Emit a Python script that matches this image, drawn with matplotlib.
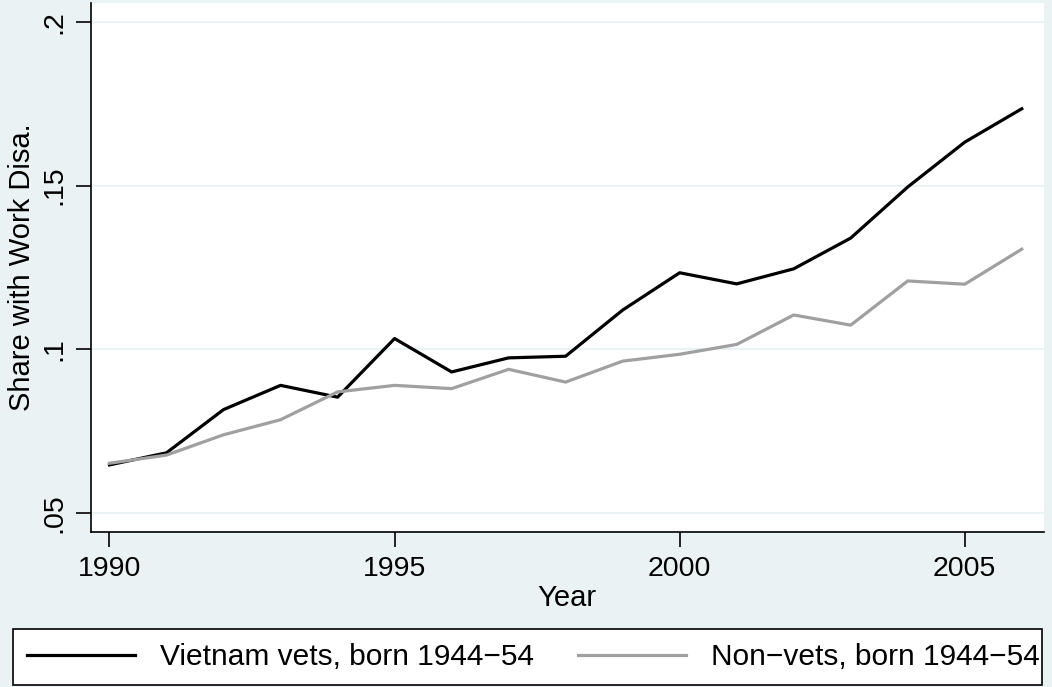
import matplotlib
matplotlib.use("Agg")
import matplotlib.pyplot as plt
from matplotlib.patches import Rectangle

# data
years = list(range(1990, 2007))
vets = [0.0647, 0.0684, 0.0816, 0.0890, 0.0854, 0.1033, 0.0931, 0.0974, 0.0979,
        0.1120, 0.1234, 0.1200, 0.1246, 0.1340, 0.1496, 0.1633, 0.1735]
nonvets = [0.0652, 0.0677, 0.0739, 0.0785, 0.0870, 0.0890, 0.0880, 0.0939, 0.0900,
           0.0964, 0.0985, 0.1015, 0.1105, 0.1074, 0.1209, 0.1199, 0.1306]
xticks = [1990, 1995, 2000, 2005]
yticks = [0.05, 0.10, 0.15, 0.20]
ytick_labels = [".05", ".1", ".15", ".2"]

bg = "#EAF2F3"
plt.rcParams["font.family"] = ["Liberation Sans", "DejaVu Sans"]

fig = plt.figure(figsize=(10.52, 6.87), dpi=100, facecolor=bg)
ax = fig.add_axes([0.0862, 0.2256, 0.9062, 0.7700])
ax.set_facecolor("white")

ax.plot(years, vets, color="black", lw=2.3, label="Vietnam vets, born 1944\u221254")
ax.plot(years, nonvets, color="#a0a0a0", lw=2.3, label="Non\u2212vets, born 1944\u221254")

ax.set_xlim(1989.67, 2006.39)
ax.set_ylim(0.0442, 0.2058)
ax.set_xticks(xticks)
ax.set_yticks(yticks)
ax.set_yticklabels(ytick_labels, rotation=90, va="center")
ax.grid(axis="y", color=bg, lw=1.5)
ax.set_axisbelow(True)

for s in ["top", "right"]:
    ax.spines[s].set_visible(False)
for s in ["bottom", "left"]:
    ax.spines[s].set_linewidth(1.2)

ax.tick_params(axis="both", length=11, width=1.2, labelsize=20.5, pad=6)
ax.set_xlabel("Year", fontsize=21, labelpad=2)
ax.set_ylabel("Share with Work Disa.", fontsize=21, labelpad=4)

# legend box drawn separately, text is allowed to run over its edge like Stata does
fig.patches.append(Rectangle((13 / 1052, 2 / 687), 1029 / 1052, 56 / 687,
                             transform=fig.transFigure, facecolor="white",
                             edgecolor="black", lw=1.2, zorder=0))
leg = fig.legend(loc="center left", bbox_to_anchor=(27 / 1052, 30 / 687),
                 ncol=2, fontsize=21.5, frameon=False, handlelength=3.6,
                 handletextpad=0.84, columnspacing=1.5, borderpad=0,
                 borderaxespad=0)

fig.savefig("out.png", dpi=100, facecolor=bg)
